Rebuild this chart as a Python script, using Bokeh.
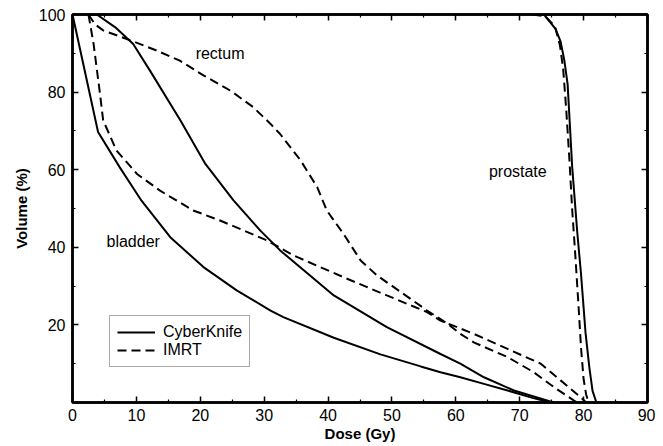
from bokeh.plotting import figure
from bokeh.models import Range1d, FixedTicker, LinearAxis, Legend, LegendItem, Label
from bokeh.embed import file_html
from bokeh.resources import INLINE

# ---- data (Dose Gy, Volume %) ----
ck_bladder_dose = [0, 4.0, 7.4, 10.8, 15.3, 20.5, 25.7, 31.0, 33.0, 40.9, 48.2, 54.5, 57.6, 60.7, 64.4, 68.1, 72.0, 74.8]
ck_bladder_vol = [100, 69.7, 60.6, 52.0, 42.6, 34.9, 28.9, 23.7, 22.0, 16.7, 12.4, 9.3, 7.8, 6.5, 4.8, 3.1, 1.2, 0]

ck_rectum_dose = [2.5, 3.8, 6.7, 9.5, 12.1, 16.9, 20.8, 25.2, 29.4, 32.5, 40.9, 49.2, 57.6, 60.7, 64.4, 69.1, 75.3]
ck_rectum_vol = [100, 100, 96.7, 92.4, 85.6, 72.7, 61.5, 52.1, 44.3, 39.2, 27.6, 19.4, 12.5, 10.0, 6.5, 3.1, 0]

ck_prostate_dose = [72.0, 73.8, 75.6, 76.4, 77.0, 77.5, 78.2, 79.0, 79.6, 80.3, 80.9, 81.4, 82.0]
ck_prostate_vol = [100, 100, 96.3, 93.0, 88.0, 82.0, 61.0, 44.0, 33.0, 18.0, 9.0, 3.0, 0]

imrt_bladder_dose = [2.5, 3.3, 4.3, 4.8, 6.9, 10.1, 13.7, 18.9, 23.1, 30.4, 34.6, 42.4, 49.2, 55.5, 57.6, 62.8, 68.1, 73.3, 76.4, 79.5, 80.4]
imrt_bladder_vol = [100, 92.4, 79.6, 72.7, 64.9, 58.9, 54.6, 49.5, 46.9, 41.8, 37.9, 32.3, 27.6, 23.3, 21.1, 17.7, 13.8, 10.0, 5.7, 1.4, 0]

imrt_rectum_dose = [2.5, 3.5, 4.8, 8.5, 13.2, 16.8, 20.5, 24.7, 28.3, 31.0, 32.5, 35.7, 38.3, 39.8, 42.4, 45.1, 47.7, 51.8, 55.5, 58.7, 60.7, 62.8, 68.1, 72.2, 75.4, 78.5, 79.0]
imrt_rectum_vol = [100, 97.5, 95.9, 93.7, 90.7, 88.1, 84.3, 80.4, 76.1, 71.8, 69.2, 62.4, 55.5, 49.5, 43.5, 36.6, 32.7, 28.0, 23.7, 20.3, 17.7, 15.5, 11.7, 7.8, 3.9, 0.5, 0]

imrt_prostate_dose = [72.0, 74.0, 75.5, 76.3, 76.8, 77.3, 77.8, 78.2, 78.7, 79.2, 79.6, 80.0, 80.4, 80.8]
imrt_prostate_vol = [100, 99.5, 97.0, 92.0, 86.0, 75.0, 62.0, 50.0, 38.0, 25.0, 14.0, 6.0, 2.0, 0]

x_ticks = [0, 10, 20, 30, 40, 50, 60, 70, 80, 90]
x_minor = [5, 15, 25, 35, 45, 55, 65, 75, 85]
y_ticks = [20, 40, 60, 80, 100]
y_minor = [10, 30, 50, 70, 90]

FONT = "Liberation Sans"

p = figure(width=655, height=444, output_backend="svg", toolbar_location=None,
           x_range=Range1d(0, 90), y_range=Range1d(0, 100),
           min_border_left=72, min_border_right=8, min_border_top=14, min_border_bottom=40)
p.grid.visible = False
p.outline_line_color = "black"
p.outline_line_width = 2.5
p.background_fill_color = "white"
p.border_fill_color = "white"

def style_axis(ax, ticks, show_labels=True):
    ax.axis_line_color = "black"
    ax.axis_line_width = 2.5
    ax.major_tick_in = 6
    ax.major_tick_out = 0
    ax.minor_tick_in = 3
    ax.minor_tick_out = 0
    ax.major_tick_line_width = 1.5
    ax.minor_tick_line_width = 1.2
    ax.major_label_text_font = FONT
    ax.major_label_text_font_size = "16px"
    ax.major_label_text_color = "black"
    ax.axis_label_text_font = FONT
    ax.axis_label_text_font_size = "15px"
    ax.axis_label_text_font_style = "bold"
    ax.axis_label_text_color = "black"
    if not show_labels:
        ax.major_label_overrides = {t: "" for t in ticks}
        ax.major_label_standoff = 0

xa = p.xaxis[0]
ya = p.yaxis[0]
xa.ticker = FixedTicker(ticks=x_ticks, minor_ticks=x_minor)
ya.ticker = FixedTicker(ticks=y_ticks, minor_ticks=y_minor)
style_axis(xa, x_ticks)
style_axis(ya, y_ticks)
xa.axis_label = "Dose (Gy)"
ya.axis_label = "Volume (%)"
xa.major_label_standoff = 6
xa.axis_label_standoff = 1
ya.major_label_standoff = 7
ya.axis_label_standoff = 6

top = LinearAxis(ticker=FixedTicker(ticks=x_ticks, minor_ticks=x_minor))
right = LinearAxis(ticker=FixedTicker(ticks=y_ticks, minor_ticks=y_minor))
style_axis(top, x_ticks, False)
style_axis(right, y_ticks, False)
p.add_layout(top, "above")
p.add_layout(right, "right")

lw = 2
dash = "9 5"
r1 = p.line(ck_bladder_dose, ck_bladder_vol, line_color="black", line_width=lw)
p.line(ck_rectum_dose, ck_rectum_vol, line_color="black", line_width=lw)
p.line(ck_prostate_dose, ck_prostate_vol, line_color="black", line_width=lw)
r2 = p.line(imrt_bladder_dose, imrt_bladder_vol, line_color="black", line_width=lw, line_dash=dash)
p.line(imrt_rectum_dose, imrt_rectum_vol, line_color="black", line_width=lw, line_dash=dash)
p.line(imrt_prostate_dose, imrt_prostate_vol, line_color="black", line_width=lw, line_dash=dash)

legend = Legend(items=[LegendItem(label="CyberKnife", renderers=[r1]),
                       LegendItem(label="IMRT", renderers=[r2])],
                location=(37, 35))
legend.label_text_font = FONT
legend.label_text_font_size = "16px"
legend.label_text_color = "black"
legend.glyph_width = 38
legend.glyph_height = 16
legend.label_height = 16
legend.spacing = 0
legend.padding = 7
legend.margin = 0
legend.label_standoff = 8
legend.border_line_color = "#555555"
legend.border_line_width = 1
legend.background_fill_alpha = 1
p.add_layout(legend, "center")

for txt, xd, yd in [("rectum", 23.1, 89.9), ("bladder", 9.5, 41.6), ("prostate", 69.7, 59.5)]:
    p.add_layout(Label(x=xd, y=yd, text=txt, text_align="center", text_baseline="middle",
                       text_font=FONT, text_font_size="16px", text_color="black"))

open("out.html", "w").write(file_html(p, INLINE))
